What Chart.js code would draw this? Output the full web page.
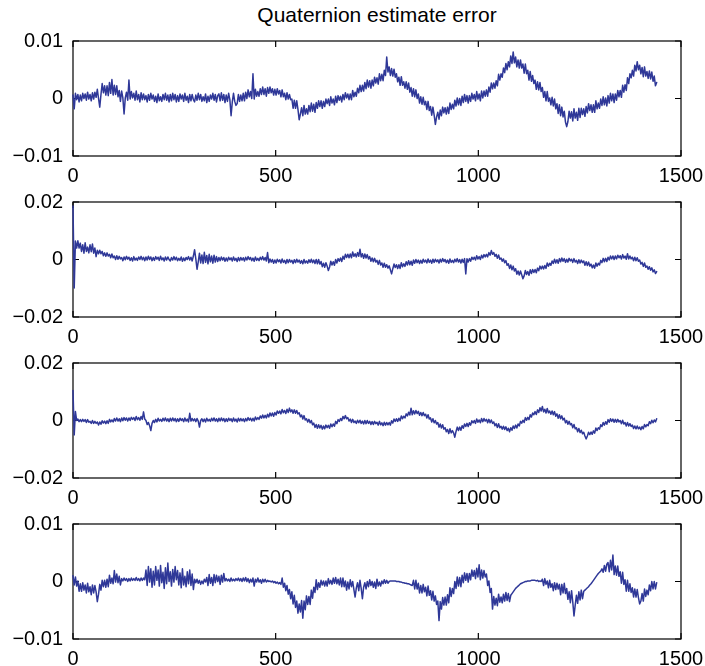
<!DOCTYPE html>
<html>
<head>
<meta charset="utf-8">
<script src="https://cdn.jsdelivr.net/npm/chart.js@4/dist/chart.umd.min.js"></script>
<style>
  html, body { margin: 0; padding: 0; background: #fff; }
  body { width: 705px; height: 666px; position: relative; overflow: hidden; font-family: "Liberation Sans", Arial, Helvetica, sans-serif; }
  #title { position: absolute; left: 177px; width: 400px; top: 4px; text-align: center; font-size: 21px; line-height: 21px; color: #000; }
  .panel { position: absolute; left: 0; width: 705px; height: 159px; }
  .panel canvas { display: block; }
</style>
</head>
<body>
<div id="title">Quaternion estimate error</div>
<div class="panel" style="top:27px"><canvas id="c0" width="705" height="159"></canvas></div>
<div class="panel" style="top:188px"><canvas id="c1" width="705" height="159"></canvas></div>
<div class="panel" style="top:349px"><canvas id="c2" width="705" height="159"></canvas></div>
<div class="panel" style="top:510px"><canvas id="c3" width="705" height="159"></canvas></div>
<script>
// ---- data ----
// sample positions along the x axis (every 3 samples, 0 .. 1440)
const sampleX = [];
for (let x = 0; x <= 1440; x += 3) sampleX.push(x);

const xTicks = [0, 500, 1000, 1500];
const yLimits = [0.01, 0.02, 0.02, 0.01];

// error values below are written in units of 1e-4
const VALUE_UNIT = 1e-4;

const q1Error = [
  6, -18, 9, -2, 7, -6, 6, -4, 9, 0, 8, -3, 11, -1, 7, -4, 10, -1, 11, 2,
  16, 0, -15, 7, 26, 10, 22, 6, 22, 5, 28, 9, 33, 6, 23, 7, 22, 3, 14, -5,
  13, 1, -27, 1, 11, -3, 32, -1, 12, 1, 9, -3, 13, -2, 7, -6, 10, -2, 8, -2,
  5, -6, 7, -3, 9, -1, 6, -5, 4, -7, 8, -4, 3, -5, 7, -2, 9, -3, 6, -6,
  7, -4, 9, -2, 7, -6, 5, -5, 8, -1, 6, -5, 9, -3, 4, -7, 7, -4, 7, -2,
  -6, 6, -3, 9, -2, 7, -5, 3, -4, 8, -7, 4, -5, 6, -1, 9, -3, 7, -6, 5,
  8, -4, 10, -3, 7, -7, 6, -5, 9, -2, -30, -6, 9, -5, -12, -9, 7, -5, 6, -4,
  9, -4, 11, 0, 15, 3, 12, 0, 43, -1, 16, 4, 12, 4, 17, 7, 20, 7, 17, 4,
  19, 9, 20, 10, 17, 6, 16, 6, 17, 8, 14, 3, 15, 3, 9, -2, 10, -1, 7, -2,
  -1, -17, -3, -17, -4, -19, -37, -27, -16, -30, -12, -27, -18, -27, -12, -23, -8, -22, -10, -24,
  -7, -17, -4, -14, -4, -17, -5, -14, -1, -9, -1, -12, 3, -8, -1, -11, 4, -7, 5, -3,
  4, -6, 7, -2, 10, 1, 8, -2, 8, -2, 14, 3, 11, 4, 18, 10, 23, 12, 23, 13,
  28, 17, 32, 20, 31, 18, 32, 22, 37, 27, 36, 25, 43, 31, 42, 31, 49, 40, 72, 46,
  55, 40, 52, 39, 51, 37, 43, 29, 37, 23, 38, 23, 29, 18, 29, 16, 27, 11, 19, 4,
  17, 3, 15, 0, 8, -8, 3, -10, 2, -11, -5, -19, -5, -21, -14, -29, -15, -29, -45, -32,
  -24, -36, -20, -30, -15, -25, -16, -27, -15, -26, -8, -19, -10, -18, -3, -13, 1, -11, 0, -12,
  4, -7, 7, -5, 5, -8, 5, -5, 9, -1, 7, -4, 12, -1, 8, -4, 13, 1, 13, 4,
  15, 4, 20, 11, 27, 17, 27, 18, 31, 22, 42, 32, 43, 37, 53, 45, 61, 50, 64, 55,
  74, 61, 81, 62, 72, 55, 67, 53, 67, 53, 60, 44, 60, 43, 49, 32, 47, 30, 40, 26,
  32, 16, 29, 15, 28, 12, 19, 2, 12, -4, 12, -5, 1, -11, 2, -13, -1, -18, -9, -26,
  -11, -30, -15, -32, -22, -41, -49, -40, -22, -34, -23, -39, -18, -34, -24, -38, -17, -33, -17, -28,
  -18, -31, -14, -25, -9, -21, -11, -24, -11, -24, -4, -18, -8, -17, -1, -12, 3, -11, 1, -13,
  5, -8, 9, -4, 8, -7, 8, -3, 14, 3, 14, 2, 23, 11, 24, 14, 36, 26, 43, 36,
  49, 39, 58, 48, 64, 50, 58, 43, 54, 38, 55, 39, 47, 35, 48, 34, 46, 30, 39, 22,
  28
];

const q2Error = [
  186, -99, 64, 40, 65, 40, 57, 28, 51, 22, 58, 28, 43, 23, 51, 27, 54, 22, 40, 10,
  32, 20, 32, 20, 28, 13, 23, 11, 23, 12, 18, 6, 19, 6, 12, 0, 13, 1, 11, 2,
  7, -4, 9, -1, 11, 1, 8, -3, 6, -5, 10, -2, 5, -3, 9, 0, 11, -1, 8, -4,
  9, -2, 11, 0, 9, -4, 7, -3, 10, 1, 8, -3, 11, -1, 6, -5, 9, -2, 9, 0,
  -5, 7, -2, 10, -1, 8, -4, 4, -3, 9, -6, 5, -4, 7, 0, 10, -2, 8, -5, 12,
  34, 2, -34, -8, 22, -12, 16, -14, 25, -10, 14, -15, 18, -8, 12, -13, 15, -9, 10, -7,
  7, -4, 9, -2, 7, -6, 5, -5, 8, -1, 6, -5, 9, -3, 4, -7, 7, -4, 7, -2,
  6, -5, 8, -2, 10, 0, 7, -4, 5, -6, 9, -3, 4, -4, 8, -1, 10, -2, 7, -5,
  24, -11, 2, -9, 0, -13, -2, -12, 1, -8, -1, -12, 2, -10, -3, -14, 0, -11, 0, -9,
  -3, -14, -1, -11, 1, -9, -2, -13, -4, -15, 0, -12, -5, -13, -1, -10, 1, -11, -2, -14,
  0, -15, 0, -16, -7, -25, -13, -27, -11, -23, -38, -26, -6, -19, -8, -20, 0, -12, 3, -6,
  5, -7, 11, 1, 18, 7, 18, 6, 19, 6, 26, 11, 20, 9, 24, 11, 36, 9, 20, 4,
  19, 5, 17, 2, 10, -6, 5, -8, 4, -9, -3, -17, -3, -19, -12, -27, -13, -27, -18, -30,
  -22, -36, -50, -32, -16, -28, -18, -31, -18, -31, -11, -25, -15, -24, -8, -19, -4, -18, -6, -20,
  -2, -13, 0, -11, -2, -14, -3, -13, 1, -9, -2, -12, 2, -10, -2, -13, 1, -10, 1, -8,
  -1, -12, 1, -9, 3, -7, 0, -11, -2, -13, 2, -10, -3, -11, 1, -8, 3, -9, 0, -12,
  1, -10, 3, -50, 3, -9, 3, -6, 8, 0, 8, -2, 13, 2, 10, 0, 15, 5, 17, 9,
  18, 9, 24, 15, 31, 18, 24, 11, 18, 4, 16, 1, 5, -6, 2, -11, -4, -20, -15, -31,
  -19, -36, -23, -40, -32, -51, -40, -54, -40, -53, -67, -57, -38, -52, -42, -55, -36, -49, -35, -45,
  -35, -46, -30, -39, -23, -33, -23, -33, -21, -31, -12, -23, -13, -20, -5, -14, 1, -12, -1, -13,
  3, -8, 5, -6, 3, -10, 1, -9, 4, -5, 1, -10, 3, -9, -3, -14, -1, -12, -2, -11,
  -5, -20, -8, -21, -9, -23, -16, -29, -19, -30, -12, -23, -13, -19, -3, -11, 4, -8, 4, -7,
  8, -2, 12, 2, 12, 0, 12, 2, 15, 6, 13, 2, 17, 5, 12, 1, 20, 2, 12, 2,
  8, -4, 8, -4, 6, -6, -2, -16, -10, -24, -12, -27, -23, -34, -25, -37, -29, -43, -36, -49,
  -42
];

const q3Error = [
  104, -50, 31, 0, 5, -4, 3, -4, 4, -3, 3, -7, 3, -6, -3, -10, 0, -10, -3, -10,
  -5, -16, -5, -13, -1, -9, -2, -11, -1, -10, 4, -5, 2, -5, 7, -2, 9, -2, 6, -4,
  9, -1, 10, 1, 9, -2, 9, 0, 11, 4, 10, 0, 14, 3, 10, 1, 14, 4, 30, 5,
  0, -14, -7, -18, -35, -10, 0, -7, 4, -5, 8, -2, 4, -3, 8, -1, 9, -2, 6, -4,
  8, -2, 9, -1, 7, -4, 6, -3, 8, 0, 6, -4, 9, -2, 5, -5, 25, -2, 7, -1,
  6, -4, 7, -2, -23, 0, 6, -4, 5, -5, 8, -2, 4, -3, 8, -1, 9, -2, 6, -4,
  8, -2, 9, -1, 7, -4, 6, -3, 8, 0, 6, -4, 9, -2, 5, -5, 8, -2, 7, -1,
  6, -4, 7, -1, 10, 1, 8, -2, 8, -2, 12, 3, 10, 4, 16, 8, 19, 9, 18, 9,
  22, 12, 26, 16, 26, 15, 28, 19, 33, 25, 33, 23, 38, 27, 35, 24, 39, 28, 43, 30,
  37, 25, 37, 25, 35, 23, 27, 13, 19, 5, 17, 2, 6, -5, 4, -8, 0, -15, -9, -24,
  -14, -27, -15, -26, -17, -30, -19, -29, -16, -25, -17, -27, -12, -22, -12, -20, -3, -11, 3, -3,
  7, 0, 14, 6, 17, 6, 10, -2, 5, -7, 4, -7, -2, -10, 1, -8, 1, -10, -2, -12,
  0, -11, 0, -10, -3, -14, -4, -14, -3, -11, -6, -16, -3, -15, -8, -18, -6, -16, -7, -15,
  -7, -16, -1, -9, 5, -3, 6, -3, 8, -1, 16, 6, 15, 9, 23, 16, 29, 19, 43, 20,
  34, 23, 35, 24, 32, 18, 28, 17, 28, 17, 22, 9, 20, 5, 9, -5, 6, -8, 0, -12,
  -7, -23, -12, -26, -15, -30, -25, -39, -31, -45, -29, -43, -35, -43, -58, -38, -23, -35, -23, -34,
  -18, -27, -12, -21, -10, -21, -8, -16, -1, -8, 0, -10, 5, -6, 2, -8, 7, -4, 7, -2,
  4, -8, 4, -8, 2, -10, -5, -18, -11, -24, -11, -25, -20, -30, -20, -31, -22, -35, -27, -39,
  -25, -34, -19, -28, -16, -26, -12, -19, -3, -9, 1, -7, 10, 1, 11, 3, 20, 12, 26, 20,
  31, 21, 37, 28, 44, 33, 49, 30, 39, 26, 42, 27, 33, 22, 33, 20, 31, 15, 23, 8,
  20, 6, 16, 2, 8, -8, 0, -13, -3, -15, -11, -25, -14, -29, -25, -39, -28, -42, -34, -46,
  -41, -54, -64, -54, -41, -49, -40, -48, -36, -44, -26, -35, -25, -30, -15, -21, -7, -16, -4, -13,
  3, -6, 6, -3, 5, -6, 4, -6, 4, -5, 0, -11, 1, -12, -7, -19, -7, -19, -11, -21,
  -16, -28, -19, -29, -19, -29, -23, -32, -21, -29, -14, -22, -14, -18, -4, -11, 1, -8, 2, -5,
  6
];

const q4Error = [
  10, -6, 8, -8, 1, -17, -4, -17, -2, -15, -6, -20, -3, -18, -9, -23, -6, -20, -7, -18,
  -35, -22, -5, -15, 2, -9, 2, -10, 4, -9, 11, -3, 6, -4, 19, -1, 13, -2, 9, -6,
  5, 1, 6, 2, 5, 0, 5, 1, 6, 2, 5, 2, 7, 2, 5, 1, 6, 2, 6, 3,
  20, -7, 26, -1, 22, -10, 18, -6, 26, 2, 20, -8, 28, -2, 16, -12, 24, -4, 32, 0,
  17, -8, 21, -1, 26, 3, 19, -6, 15, -11, 22, -6, 9, -9, 17, -4, 20, -7, 13, -14,
  4, -2, 4, -3, 2, -5, 1, -4, 4, -1, 7, -7, 12, -3, 7, -7, 12, -2, 11, 0,
  9, -5, 11, -1, 14, 1, 5, 1, 4, 0, 6, 1, 4, 1, 5, 2, 6, 1, 5, 0,
  6, 1, 7, 0, 5, -2, 4, -1, 6, -8, 4, -1, 6, -1, 3, -3, 4, -1, 4, -1,
  2, 0, 1, -1, 1, -2, 0, -3, -1, -4, -2, -5, 6, -10, -3, -16, -7, -22, -14, -30,
  -18, -39, -24, -45, -34, -55, -39, -53, -33, -64, -34, -49, -25, -40, -26, -40, -15, -29, -10, -19,
  3, -14, -2, -10, 2, -6, 1, -8, 1, -8, 5, -4, 2, -5, 6, -3, 7, -4, 4, -6,
  6, -9, 6, -9, 1, -15, -1, -13, 3, -9, 0, -14, -27, -11, -2, -16, 2, -12, -30, -10,
  -2, -13, 0, -9, 3, -7, 0, -10, -1, -12, 4, -8, -1, -8, 1, -4, 3, -3, 2, -3,
  0, 1, 1, 1, 1, 1, 0, 0, 0, -1, -1, -2, -2, -3, -3, -4, -4, -5, -6, -7,
  2, -13, 2, -13, -3, -20, -7, -20, -5, -18, -10, -25, -8, -24, -16, -32, -17, -34, -25, -40,
  -34, -68, -35, -48, -28, -41, -27, -41, -23, -37, -11, -26, -12, -21, 0, -12, 8, -8, 7, -9,
  11, -2, 15, 2, 14, -1, 14, 3, 20, 9, 19, 5, 23, 8, 29, 3, 20, 6, 19, 8,
  13, -7, 1, -19, -12, -48, -26, -41, -29, -42, -22, -36, -27, -37, -22, -34, -19, -33, -21, -35,
  -24, -21, -18, -15, -12, -10, -8, -6, -4, -3, -2, -1, 0, 0, 1, 1, 1, 2, 2, 2,
  2, 1, 2, 0, 1, 0, 4, -7, 5, -5, 1, -11, 2, -10, -4, -16, -2, -14, -3, -13,
  -5, -23, -5, -20, -3, -21, -12, -31, -18, -37, -16, -36, -60, -41, -24, -38, -18, -32, -15, -30,
  -17, -15, -13, -11, -9, -6, -4, -1, 2, 5, 8, 11, 14, 16, 18, 22, 16, 28, 18, 30,
  33, 17, 37, 20, 46, 12, 27, 11, 27, 9, 17, -3, 16, -5, 3, -17, 2, -17, -4, -19,
  -11, -27, -13, -27, -14, -28, -39, -34, -21, -34, -13, -26, -15, -23, -6, -16, 0, -13, 0, -13,
  -2
];

const seriesList = [q1Error, q2Error, q3Error, q4Error];

// ---- drawing ----
const FONT = '"Liberation Sans", Arial, Helvetica, sans-serif';
const LINE_COLOR = '#2f3898';

// MATLAB-style axes box with inward ticks on all four sides (drawn under the data)
const matlabFrame = {
  id: 'matlabFrame',
  beforeDatasetsDraw(chart) {
    const { ctx, chartArea: a, scales } = chart;
    const tick = 6;
    ctx.save();
    ctx.strokeStyle = '#000';
    ctx.lineWidth = 1.2;
    ctx.strokeRect(a.left, a.top, a.right - a.left, a.bottom - a.top);
    ctx.beginPath();
    scales.x.ticks.forEach((t, i) => {
      const px = scales.x.getPixelForTick(i);
      ctx.moveTo(px, a.bottom); ctx.lineTo(px, a.bottom - tick);
      ctx.moveTo(px, a.top); ctx.lineTo(px, a.top + tick);
    });
    scales.y.ticks.forEach((t, i) => {
      const py = scales.y.getPixelForTick(i);
      ctx.moveTo(a.left, py); ctx.lineTo(a.left + tick, py);
      ctx.moveTo(a.right, py); ctx.lineTo(a.right - tick, py);
    });
    ctx.stroke();
    ctx.restore();
  }
};

function fmtY(v) {
  if (Math.abs(v) < 1e-12) return '0';
  const s = Math.abs(v).toFixed(2);
  return v < 0 ? '\u2212' + s : s;
}

seriesList.forEach((vals, k) => {
  const lim = yLimits[k];
  const pts = sampleX.map((x, i) => ({ x: x, y: vals[i] * VALUE_UNIT }));
  new Chart(document.getElementById('c' + k), {
    type: 'line',
    data: {
      datasets: [{
        data: pts,
        borderColor: LINE_COLOR,
        borderWidth: 1.5,
        borderJoinStyle: 'round',
        borderCapStyle: 'round',
        pointRadius: 0,
        tension: 0,
        fill: false,
        clip: 2
      }]
    },
    plugins: [matlabFrame],
    options: {
      responsive: false,
      devicePixelRatio: 1,
      animation: false,
      events: [],
      layout: { padding: { top: 14, right: 24, bottom: 0, left: 0 } },
      plugins: { legend: { display: false }, tooltip: { enabled: false }, title: { display: false } },
      scales: {
        x: {
          type: 'linear',
          min: xTicks[0],
          max: xTicks[xTicks.length - 1],
          afterBuildTicks(scale) { scale.ticks = xTicks.map(v => ({ value: v })); },
          afterFit(scale) { scale.height = 30; scale.paddingLeft = 0; scale.paddingRight = 0; },
          grid: { display: false, drawTicks: false },
          border: { display: false },
          ticks: { color: '#000', padding: 8, maxRotation: 0, font: { family: FONT, size: 20 }, callback: v => String(v) }
        },
        y: {
          type: 'linear',
          min: -lim,
          max: lim,
          afterBuildTicks(scale) { scale.ticks = [-lim, 0, lim].map(v => ({ value: v })); },
          afterFit(scale) { scale.width = 73; scale.paddingTop = 0; scale.paddingBottom = 0; },
          grid: { display: false, drawTicks: false },
          border: { display: false },
          ticks: { color: '#000', padding: 10, font: { family: FONT, size: 20 }, callback: v => fmtY(v) }
        }
      }
    }
  });
});
</script>
</body>
</html>
